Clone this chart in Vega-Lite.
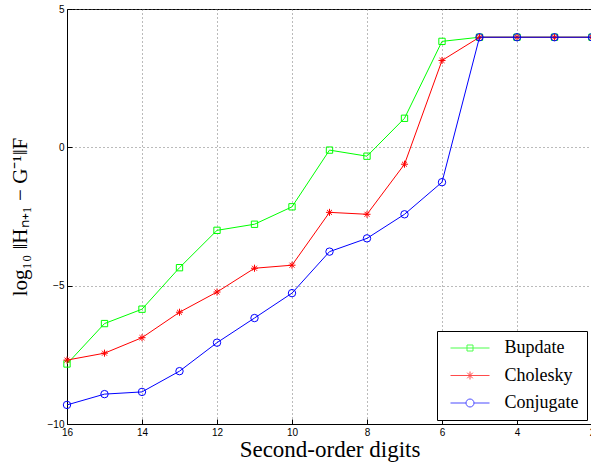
{
  "$schema": "https://vega.github.io/schema/vega-lite/v6.json",
  "width": 525,
  "height": 415,
  "padding": {"left": 67, "top": 9, "right": 0, "bottom": 41},
  "autosize": {"type": "none"},
  "background": "white",
  "config": {
    "view": {"stroke": "black", "strokeWidth": 1},
    "axis": {
      "labelFont": "Liberation Sans",
      "labelFontSize": 10,
      "labelColor": "black",
      "titleFont": "Liberation Serif",
      "titleFontSize": 21,
      "titleFontWeight": "normal",
      "titleColor": "black",
      "domainColor": "black",
      "tickColor": "black",
      "tickSize": -5,
      "gridColor": "#777",
      "gridDash": [1, 3],
      "gridOpacity": 1
    },
    "legend": {
      "labelFont": "Liberation Serif",
      "labelFontSize": 18,
      "labelColor": "black",
      "strokeColor": "black",
      "fillColor": "white",
      "padding": 8,
      "symbolSize": 100,
      "symbolStrokeWidth": 1,
      "symbolOffset": 16,
      "labelOffset": 25.5,
      "rowPadding": 9.5,
      "offset": 0
    }
  },
  "data": {
    "values": [
      {"d": 16, "v": -7.83, "s": "Bupdate"},
      {"d": 15, "v": -6.37, "s": "Bupdate"},
      {"d": 14, "v": -5.85, "s": "Bupdate"},
      {"d": 13, "v": -4.35, "s": "Bupdate"},
      {"d": 12, "v": -3.0, "s": "Bupdate"},
      {"d": 11, "v": -2.78, "s": "Bupdate"},
      {"d": 10, "v": -2.15, "s": "Bupdate"},
      {"d": 9, "v": -0.1, "s": "Bupdate"},
      {"d": 8, "v": -0.32, "s": "Bupdate"},
      {"d": 7, "v": 1.05, "s": "Bupdate"},
      {"d": 6, "v": 3.83, "s": "Bupdate"},
      {"d": 5, "v": 3.98, "s": "Bupdate"},
      {"d": 4, "v": 3.98, "s": "Bupdate"},
      {"d": 3, "v": 3.98, "s": "Bupdate"},
      {"d": 2, "v": 3.98, "s": "Bupdate"},
      {"d": 16, "v": -7.69, "s": "Cholesky"},
      {"d": 15, "v": -7.44, "s": "Cholesky"},
      {"d": 14, "v": -6.88, "s": "Cholesky"},
      {"d": 13, "v": -5.96, "s": "Cholesky"},
      {"d": 12, "v": -5.23, "s": "Cholesky"},
      {"d": 11, "v": -4.37, "s": "Cholesky"},
      {"d": 10, "v": -4.26, "s": "Cholesky"},
      {"d": 9, "v": -2.35, "s": "Cholesky"},
      {"d": 8, "v": -2.42, "s": "Cholesky"},
      {"d": 7, "v": -0.61, "s": "Cholesky"},
      {"d": 6, "v": 3.14, "s": "Cholesky"},
      {"d": 5, "v": 3.98, "s": "Cholesky"},
      {"d": 4, "v": 3.98, "s": "Cholesky"},
      {"d": 3, "v": 3.98, "s": "Cholesky"},
      {"d": 2, "v": 3.98, "s": "Cholesky"},
      {"d": 16, "v": -9.31, "s": "Conjugate"},
      {"d": 15, "v": -8.92, "s": "Conjugate"},
      {"d": 14, "v": -8.84, "s": "Conjugate"},
      {"d": 13, "v": -8.09, "s": "Conjugate"},
      {"d": 12, "v": -7.06, "s": "Conjugate"},
      {"d": 11, "v": -6.17, "s": "Conjugate"},
      {"d": 10, "v": -5.27, "s": "Conjugate"},
      {"d": 9, "v": -3.77, "s": "Conjugate"},
      {"d": 8, "v": -3.29, "s": "Conjugate"},
      {"d": 7, "v": -2.42, "s": "Conjugate"},
      {"d": 6, "v": -1.26, "s": "Conjugate"},
      {"d": 5, "v": 3.98, "s": "Conjugate"},
      {"d": 4, "v": 3.98, "s": "Conjugate"},
      {"d": 3, "v": 3.98, "s": "Conjugate"},
      {"d": 2, "v": 3.98, "s": "Conjugate"}
    ]
  },
  "encoding": {
    "x": {
      "field": "d",
      "type": "quantitative",
      "scale": {"domain": [2, 16], "reverse": true, "nice": false},
      "axis": {"values": [2, 4, 6, 8, 10, 12, 14, 16], "title": "Second-order digits", "titleFontSize": 23, "labelPadding": 8, "titlePadding": 1, "labelFlush": false}
    },
    "y": {
      "field": "v",
      "type": "quantitative",
      "scale": {"domain": [-10, 5], "nice": false},
      "axis": {"values": [-10, -5, 0, 5], "title": "log₁₀ ‖Hₙ₊₁ − G⁻¹‖F", "labelPadding": 8, "titlePadding": 17, "labelFlush": false}
    }
  },
  "layer": [
    {
      "transform": [{"filter": "datum.s === 'Bupdate'"}],
      "mark": {"type": "line", "strokeWidth": 1, "stroke": "#00ff00",
        "point": {"filled": false, "strokeWidth": 1, "shape": "square", "size": 40, "stroke": "#00ff00", "fill": null}}
    },
    {
      "transform": [{"filter": "datum.s === 'Cholesky'"}],
      "mark": {"type": "line", "strokeWidth": 1, "stroke": "#ff0000",
        "point": {"filled": false, "strokeWidth": 1, "shape": "M-1,0L1,0M0,-1L0,1M-0.7,-0.7L0.7,0.7M-0.7,0.7L0.7,-0.7", "size": 50, "stroke": "#ff0000", "fill": null}}
    },
    {
      "transform": [{"filter": "datum.s === 'Conjugate'"}],
      "mark": {"type": "line", "strokeWidth": 1, "stroke": "#0000ff",
        "point": {"filled": false, "strokeWidth": 1, "shape": "circle", "size": 55, "stroke": "#0000ff", "fill": null}}
    },
    {
      "mark": {"type": "point", "filled": false, "strokeWidth": 1, "size": 0},
      "encoding": {
        "shape": {
          "field": "s", "type": "nominal",
          "scale": {"domain": ["Bupdate", "Cholesky", "Conjugate"], "range": [
            "M-3.9,0L3.9,0M-0.6,-0.6L0.6,-0.6L0.6,0.6L-0.6,0.6Z",
            "M-3.9,0L3.9,0M-0.8,0L0.8,0M0,-0.8L0,0.8M-0.56,-0.56L0.56,0.56M-0.56,0.56L0.56,-0.56",
            "M-3.9,0L-0.8,0M0.8,0L3.9,0M0.8,0A0.8,0.8,0,1,1,-0.8,0A0.8,0.8,0,1,1,0.8,0"
          ]},
          "legend": {"title": null, "orient": "none", "legendX": 370, "legendY": 322}
        },
        "color": {
          "field": "s", "type": "nominal",
          "scale": {"domain": ["Bupdate", "Cholesky", "Conjugate"], "range": ["#00ff00", "#ff0000", "#0000ff"]},
          "legend": {"title": null, "orient": "none", "legendX": 370, "legendY": 322}
        }
      }
    }
  ]
}
